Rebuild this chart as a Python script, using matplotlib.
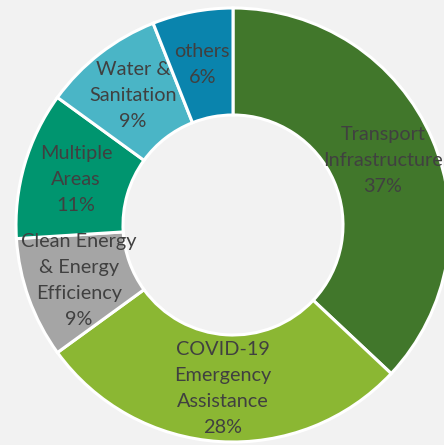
import matplotlib
matplotlib.use("Agg")
import matplotlib.pyplot as plt

categories = ["Transport\nInfrastructure", "COVID-19\nEmergency\nAssistance",
              "Clean Energy\n& Energy\nEfficiency", "Multiple\nAreas",
              "Water &\nSanitation", "others"]
values = [37, 28, 9, 11, 9, 6]
colors = ["#41772b", "#8bb733", "#a5a5a5", "#00956f", "#4ab5c6", "#0a84ad"]

fig = plt.figure(figsize=(4.44, 4.45), dpi=100)
fig.patch.set_facecolor("#f2f2f2")
ax = fig.add_axes([0, 0, 1, 1])
ax.set_facecolor("#f2f2f2")

R = 217
r_in = 110
cx, cy = 233, 445 - 225
labels = [f"{c}\n{v}%" for c, v in zip(categories, values)]
wedges, texts = ax.pie(values, startangle=90, counterclock=False, colors=colors,
                       radius=R, center=(cx, cy), labels=labels,
                       labeldistance=((R + r_in) / 2) / R,
                       wedgeprops=dict(width=R - r_in, edgecolor="white", linewidth=2.2),
                       textprops=dict(color="#404040", fontsize=14.3, family="Lato",
                                      ha="center", va="center", linespacing=1.64))
for t in texts:
    t.set_ha("center")
    t.set_va("center")
ax.set_xlim(0, 444)
ax.set_ylim(0, 445)
ax.set_aspect("auto")
ax.axis("off")
fig.savefig("out.png", dpi=100, facecolor=fig.get_facecolor())
